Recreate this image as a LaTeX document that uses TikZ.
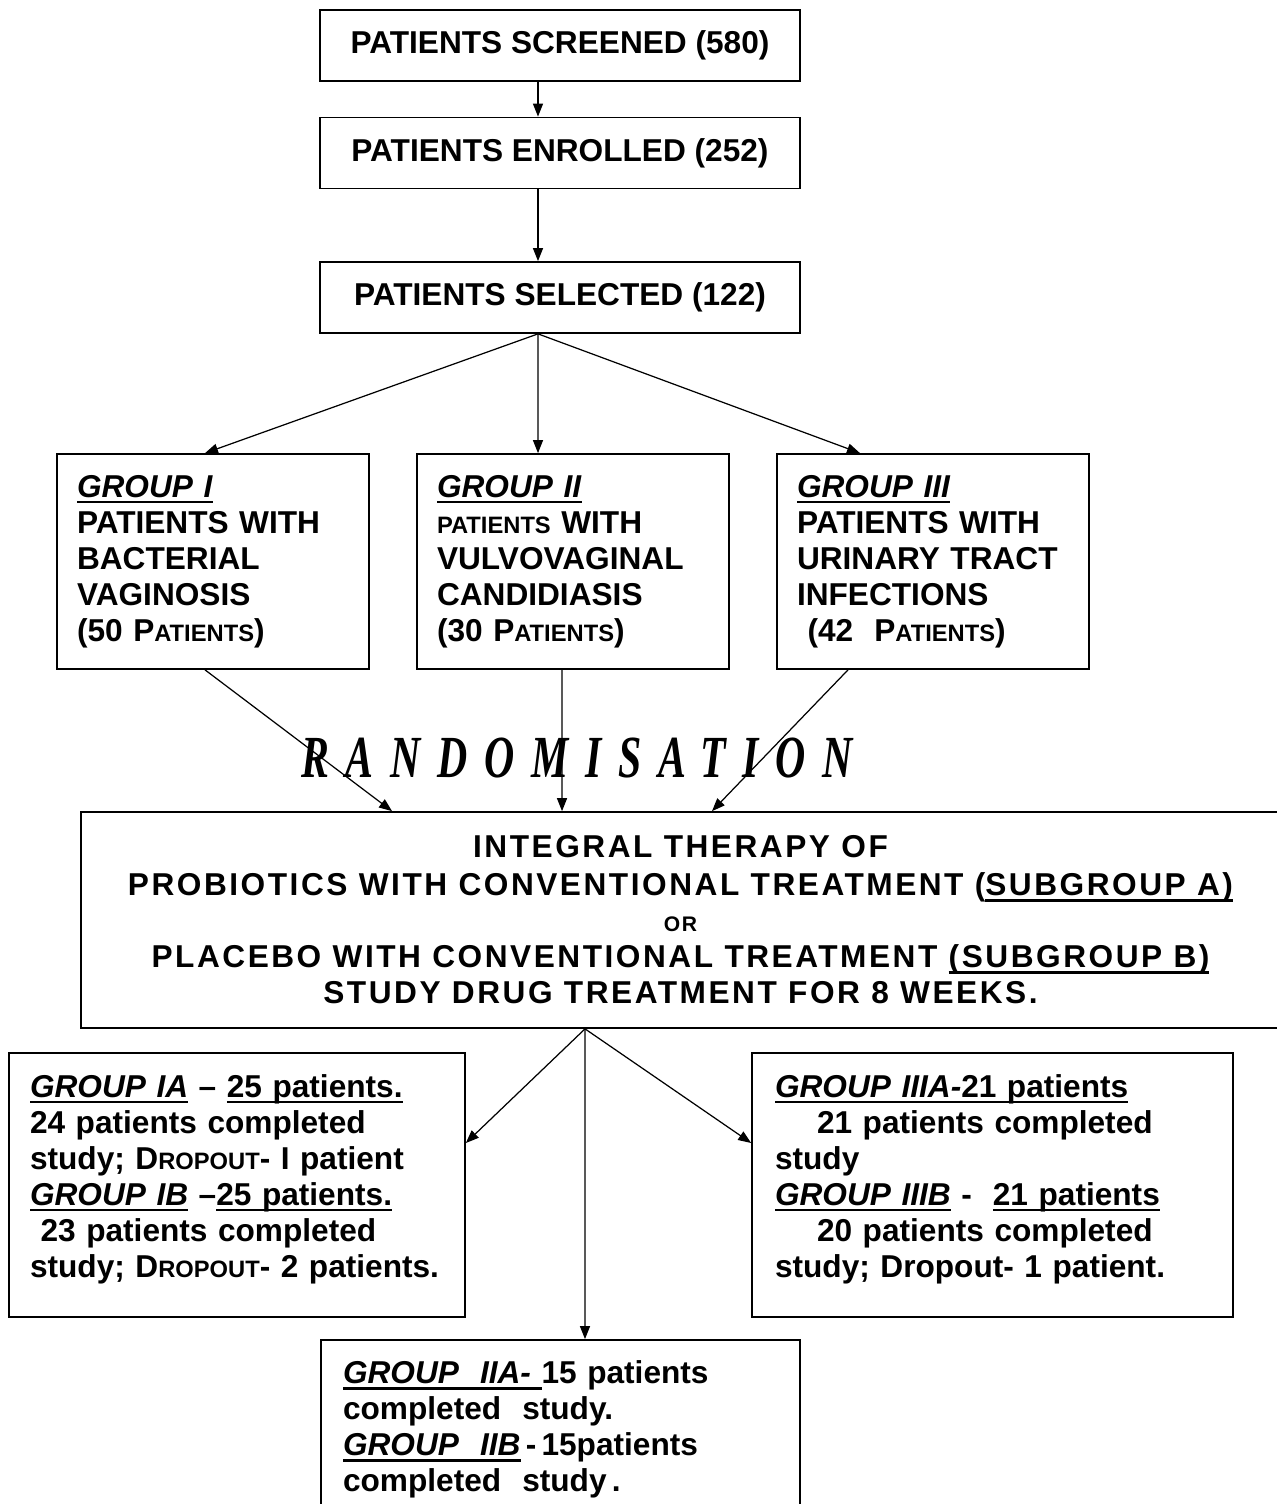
\documentclass[tikz,border=0pt]{standalone}
\usepackage{fontspec}
\usepackage{graphicx}
\setmainfont{Liberation Sans}
\newfontfamily\spacedfont[LetterSpace=8]{Liberation Sans}
\newfontfamily\randfont[LetterSpace=40]{Liberation Serif}
\newcommand{\uln}[1]{\leavevmode\setbox0\hbox{#1}\rlap{\rule[-3.5pt]{\wd0}{1.5pt}}\box0\relax}
\newcommand{\fsc}[1]{{\fontsize{13.5}{16}\selectfont #1}}
\usetikzlibrary{positioning,arrows.meta}

\begin{document}
\begin{tikzpicture}[
    x=0.02cm, y=-0.02cm,
    box/.style={draw, line width=1pt, font=\fontsize{18}{20.5}\selectfont\bfseries},
    topbox/.style={box, minimum width=9.6cm, minimum height=1.42cm},
    grpbox/.style={box, minimum width=6.24cm, minimum height=4.3cm, text width=5.44cm, inner xsep=0.4cm, align=left},
    lowbox/.style={box, minimum height=5.28cm, align=left},
    arr/.style={-{Triangle[length=0.26cm,width=0.2cm]}, line width=0.7pt}
]
    \useasboundingbox (0,0) rectangle (1276,1504);

    % top chain
    \node [topbox] (scr) at (560,45.5) {PATIENTS SCREENED (580)};
    \node [topbox] (enr) at (560,153) {PATIENTS ENROLLED (252)};
    \node [topbox] (sel) at (560,297.5) {PATIENTS SELECTED (122)};

    % groups
    \node [grpbox] (g1) at (213,561.5) {\uln{\textit{GROUP I}}\\ PATIENTS WITH\\ BACTERIAL\\ VAGINOSIS\\ (50 P\fsc{ATIENTS})};
    \node [grpbox] (g2) at (573,561.5) {\uln{\textit{GROUP II}}\\ \fsc{PATIENTS} WITH\\ VULVOVAGINAL\\ CANDIDIASIS\\ (30 P\fsc{ATIENTS})};
    \node [grpbox] (g3) at (933,561.5) {\uln{\textit{GROUP III}}\\ PATIENTS WITH\\ URINARY TRACT\\ INFECTIONS\\ \ (42\ \ P\fsc{ATIENTS})};

    \node (rand) at (577,758) {\scalebox{0.7}[1]{\fontsize{34}{36}\selectfont\randfont\bfseries\itshape RANDOMISATION}};

    % treatment box
    \node [box, minimum width=23.98cm, minimum height=4.32cm, align=center, font=\fontsize{18}{20.5}\selectfont\bfseries\spacedfont] (mid) at (680.5,920)
        {INTEGRAL THERAPY OF\\[1pt]
         PROBIOTICS WITH CONVENTIONAL TREATMENT (\uln{SUBGROUP A)}\\
         {\fontsize{12}{14}\selectfont OR}\\
         PLACEBO WITH CONVENTIONAL TREATMENT \uln{(SUBGROUP B)}\\
         STUDY DRUG TREATMENT FOR 8 WEEKS.};

    % outcomes
    \node [lowbox, minimum width=9.12cm, text width=8.28cm, inner xsep=0.42cm] (lowl) at (237,1185)
        {\uln{\textit{GROUP IA}} – \uln{25 patients.}\\
         24 patients completed\\
         study; D\fsc{ROPOUT}- I patient\\
         \uln{\textit{GROUP IB}} –\uln{25 patients.}\\
         \ 23 patients completed\\
         study; D\fsc{ROPOUT}- 2 patients.\\[-10pt]\mbox{}};
    \node [lowbox, minimum width=9.62cm, text width=8.7cm, inner xsep=0.46cm] (lowr) at (992.5,1185)
        {\uln{\textit{GROUP IIIA-}21 patients}\\
         \hspace*{0.84cm}21 patients completed\\
         study\\
         \uln{\textit{GROUP IIIB}} -\ \ \uln{21 patients}\\
         \hspace*{0.84cm}20 patients completed\\
         study; Dropout- 1 patient.\\[-10pt]\mbox{}};
    \node [box, minimum width=9.58cm, minimum height=3.3cm, text width=8.7cm, inner xsep=0.44cm, align=left] (low2) at (560.5,1422.5)
        {\rule{0pt}{21pt}\uln{\textit{GROUP\ \ IIA-\ }}15 patients\\
         completed\ \ study.\\
         \uln{\textit{GROUP\ \ IIB}}\,-\,15patients\\
         completed\ \ study\,.};

    % connectors
    \draw [arr] ([xshift=-0.44cm]scr.south) -- ([xshift=-0.44cm]enr.north);
    \draw [arr] ([xshift=-0.44cm]enr.south) -- ([xshift=-0.44cm]sel.north);
    \draw [arr] ([xshift=-0.44cm]sel.south) -- ([xshift=-0.16cm]g1.north);
    \draw [arr] ([xshift=-0.44cm]sel.south) -- ([xshift=-0.7cm]g2.north);
    \draw [arr] ([xshift=-0.44cm]sel.south) -- ([xshift=-1.46cm]g3.north);
    \draw [arr] ([xshift=-0.16cm]g1.south) -- ([xshift=-5.77cm]mid.north);
    \draw [arr] ([xshift=-0.22cm]g2.south) -- ([xshift=-2.37cm]mid.north);
    \draw [arr] ([xshift=-1.7cm]g3.south) -- ([xshift=0.63cm]mid.north);
    \draw [arr] ([xshift=-1.91cm]mid.south) -- ([yshift=0.84cm]lowl.east);
    \draw [arr] ([xshift=-1.91cm]mid.south) -- ([xshift=0.49cm]low2.north);
    \draw [arr] ([xshift=-1.91cm]mid.south) -- ([yshift=0.84cm]lowr.west);
\end{tikzpicture}
\end{document}
